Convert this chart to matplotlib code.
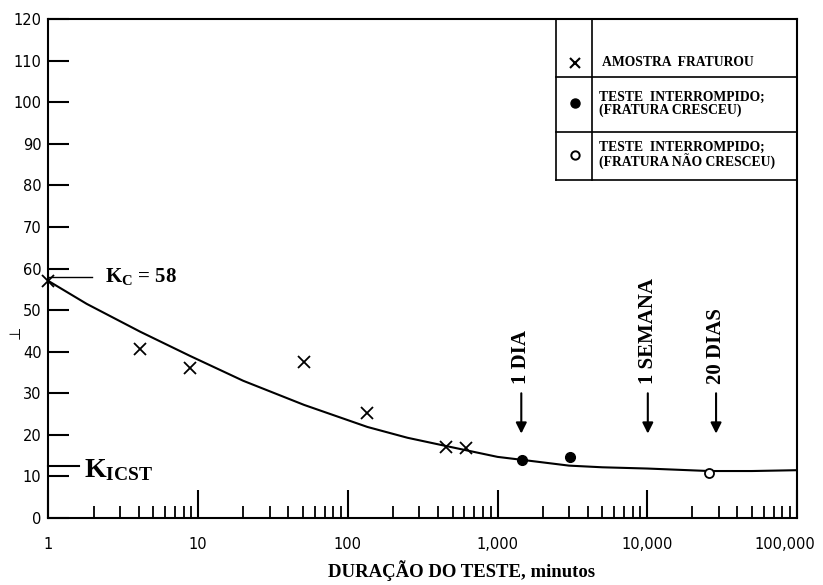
import numpy as np
import matplotlib.pyplot as plt
from matplotlib.ticker import FixedLocator, LogLocator, NullFormatter
from matplotlib.transforms import ScaledTranslation

plt.rcParams['mathtext.fontset'] = 'custom'
plt.rcParams['mathtext.rm'] = 'Liberation Serif:bold'
plt.rcParams['mathtext.bf'] = 'Liberation Serif:bold'
plt.rcParams['mathtext.it'] = 'Liberation Serif:bold'

# pontos
frat_x = [1, 4.1, 8.8, 51, 135, 455, 611]
frat_y = [57, 40.7, 36.1, 37.6, 25.3, 17.1, 16.9]
cresceu_x = [1450, 3030]
cresceu_y = [14.0, 14.7]
nao_cresceu_x = [25900]
nao_cresceu_y = [10.8]

# curva ajustada
curva_x = [1, 1.8, 4.1, 8.8, 20, 51, 135, 250, 455, 1000, 1450, 3000, 5000,
           10000, 25900, 50000, 100000]
curva_y = [57, 51.5, 44.8, 39.0, 33.0, 27.2, 21.9, 19.3, 17.3, 14.7, 14.0, 12.6,
           12.2, 11.9, 11.3, 11.3, 11.5]

# marcos de tempo
marcos_x = [1440, 10080, 28800]
marcos_txt = ['1 DIA', '1 SEMANA', '20 DIAS']

y_ticks = [0, 10, 20, 30, 40, 50, 60, 70, 80, 90, 100, 110, 120]
y_labels = ['0', '10', '20', '30', '40', '50', '60', '70', '80', '90', '100', '110', '120']
x_ticks = [1, 10, 100, 1000, 10000, 100000]
x_labels = ['1', '10', '100', '1,000', '10,000', '100,000']

KC = 58
KICST = 12.5

fig = plt.figure(figsize=(8.23, 5.85), dpi=100)
ax = fig.add_axes([0.0589, 0.1145, 0.9095, 0.853])

ax.set_xscale('log')
ax.set_xlim(1, 100000)
ax.set_ylim(0, 120)

for s in ax.spines.values():
    s.set_linewidth(1.5)

ax.plot(curva_x, curva_y, color='black', lw=1.5)
ax.plot(frat_x, frat_y, 'x', color='black', ms=8, mew=1.3, clip_on=False)
ax.plot(cresceu_x, cresceu_y, 'o', color='black', ms=7)
ax.plot(nao_cresceu_x, nao_cresceu_y, 'o', mfc='white', mec='black', ms=6.5, mew=1.3)

# ticks
ax.xaxis.set_major_locator(FixedLocator(x_ticks))
ax.set_xticklabels(x_labels)
ax.xaxis.set_minor_locator(LogLocator(base=10, subs=np.arange(2, 10)))
ax.xaxis.set_minor_formatter(NullFormatter())
ax.set_yticks(y_ticks)
ax.set_yticklabels(y_labels)
ax.tick_params(axis='x', which='major', direction='in', length=20, width=1.5, pad=14,
               labelsize=10.5)
ax.tick_params(axis='x', which='minor', direction='in', length=9, width=1.3)
ax.tick_params(axis='y', which='major', direction='in', length=15, width=1.5, pad=5,
               labelsize=10.5)

# último rótulo um pouco à esquerda para não cortar
last = ax.get_xticklabels()[-1]
last.set_transform(last.get_transform() + ScaledTranslation(-9 / 72, 0, fig.dpi_scale_trans))

ax.set_xlabel('DURAÇÃO DO TESTE, minutos', family='Liberation Serif', weight='bold',
              fontsize=13.5)
ax.xaxis.set_label_coords(0.552, -0.085)
fig.text(0.018, 0.4325, '⊥', fontsize=11, rotation=90, ha='center', va='center')

# K_C e K_ICST
ax.plot([1, 1.95], [KC, KC], color='black', lw=1, clip_on=False)
ax.text(2.4, KC, r'$\mathrm{K_C}$ = 58', family='Liberation Serif', weight='bold',
        fontsize=15, va='center', ha='left')
ax.plot([1, 1.6], [KICST, KICST], color='black', lw=1.5, clip_on=False)
ax.text(1.72, KICST - 0.8, r'$\mathrm{K_{ICST}}$', fontsize=20, va='center', ha='left')

# setas
for xm, txt in zip(marcos_x, marcos_txt):
    ax.annotate('', xy=(xm, 20.3), xytext=(xm, 30),
                arrowprops=dict(arrowstyle='-|>', color='black', lw=1.5,
                                mutation_scale=16, shrinkA=0, shrinkB=0))
    ax.text(xm, 32.2, txt, rotation=90, ha='center', va='bottom',
            family='Liberation Serif', weight='bold', fontsize=15)

# quadro da legenda
tr = ax.transAxes
lx0, lx1 = 0.678, 0.726
rows = [0.884, 0.774, 0.677]
ax.plot([lx0, lx0], [1, rows[-1]], color='black', lw=1.2, transform=tr, clip_on=False)
ax.plot([lx1, lx1], [1, rows[-1]], color='black', lw=1.2, transform=tr, clip_on=False)
for r in rows:
    ax.plot([lx0, 1], [r, r], color='black', lw=1.2, transform=tr, clip_on=False)

mx = 0.703
ax.plot([mx], [0.912], 'x', color='black', ms=7, mew=1.5, transform=tr)
ax.plot([mx], [0.832], 'o', color='black', ms=6.5, transform=tr)
ax.plot([mx], [0.728], 'o', mfc='white', mec='black', ms=6, mew=1.4, transform=tr)

tx = 0.735
kw = dict(family='Liberation Serif', weight='bold', fontsize=9.8, transform=tr,
          ha='left', va='center', linespacing=1.0)
ax.text(tx + 0.005, 0.912, 'AMOSTRA  FRATUROU', **kw)
ax.text(tx, 0.830, 'TESTE  INTERROMPIDO;\n(FRATURA CRESCEU)', **kw)
ax.text(tx, 0.726, 'TESTE  INTERROMPIDO;\n(FRATURA NÃO CRESCEU)', **kw)

fig.savefig('out.png', dpi=100)
